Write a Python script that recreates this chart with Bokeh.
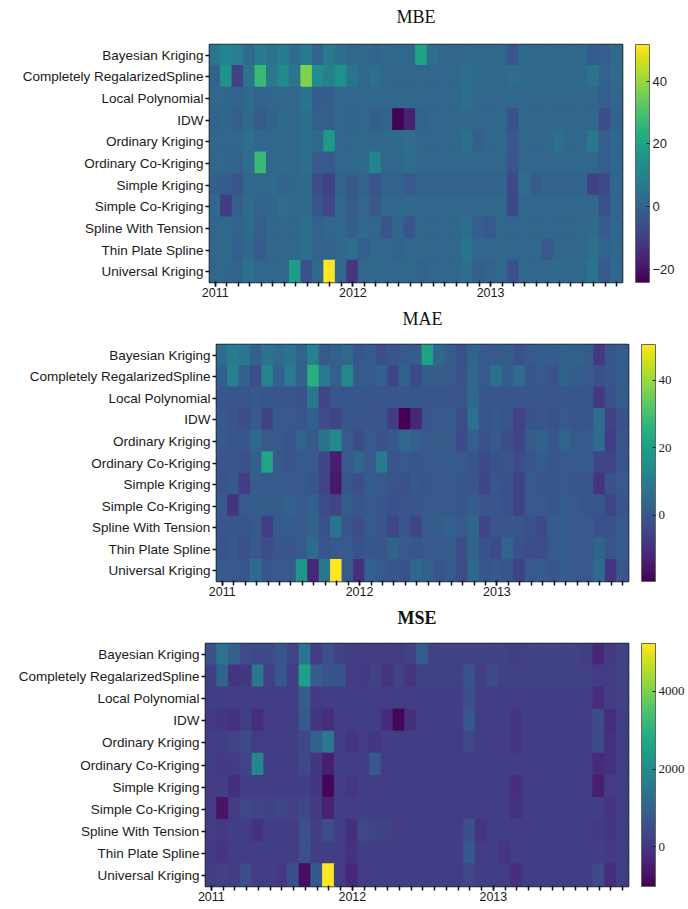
from bokeh.plotting import figure
from bokeh.models import (ColumnDataSource, LinearColorMapper, ColorBar,
                          FixedTicker, Range1d, FactorRange, LinearAxis)
from bokeh.palettes import Viridis256
from bokeh.embed import file_html
from bokeh.resources import INLINE

methods = ["Bayesian Kriging", "Completely RegalarizedSpline", "Local Polynomial",
           "IDW", "Ordinary Kriging", "Ordinary Co-Kriging", "Simple Kriging",
           "Simple Co-Kriging", "Spline With Tension", "Thin Plate Spline",
           "Universal Kriging"]
months = list(range(36))            # Jan 2011 .. Dec 2013
year_ticks = [0, 12, 24]
year_labels = ["2011", "2012", "2013"]

mbe = [
    [5,10,9,2,7,5,7,3,8,0,7,4,1,2,0,1,2,2,20,3,1,1,1,2,2,1,-4,2,2,2,2,2,2,-2,-1,2],
    [0,15,-9,5,27,6,12,5,37,13,9,14,5,1,4,1,1,1,1,1,1,1,3,2,2,2,3,2,2,2,2,2,2,5,0,2],
    [1,1,0,2,0,1,1,1,5,-2,-1,1,1,1,1,1,1,1,1,1,1,1,4,1,1,1,1,1,1,1,1,1,1,1,-1,1],
    [0,1,-1,2,-2,0,2,1,4,-1,-1,1,0,1,-1,0,-24,-17,0,1,1,1,1,1,1,1,-5,1,1,1,1,1,1,1,-6,0],
    [1,1,1,4,1,1,2,1,4,2,17,1,1,2,1,2,2,3,1,1,1,1,4,-1,1,1,-3,1,1,1,4,1,1,6,-1,1],
    [1,1,0,3,27,1,2,1,3,-3,-3,1,1,2,10,1,1,3,1,1,1,1,1,1,1,1,-4,1,1,1,1,1,1,1,-1,1],
    [-1,-2,-4,2,1,2,0,1,2,-6,-9,0,-3,0,-4,0,0,-3,0,0,0,0,0,0,0,0,-7,3,-2,0,0,0,0,-9,-7,1],
    [1,-11,-1,2,0,1,3,1,2,-4,-8,1,-3,1,-3,1,1,1,1,1,1,1,1,1,1,1,-7,1,1,1,1,1,1,1,-5,1],
    [1,2,0,2,-1,1,1,1,4,0,1,1,-1,2,1,-4,1,-4,1,1,1,1,3,-1,-3,1,1,1,1,1,1,1,1,2,-2,1],
    [1,2,-1,1,-2,1,1,1,4,0,0,1,3,-1,1,1,0,1,1,1,1,1,5,1,1,1,1,1,1,-3,1,1,1,4,0,1],
    [1,1,0,4,1,1,1,18,-5,2,51.6,1,-12,1,2,1,1,2,0,1,1,1,3,-1,0,1,-5,1,1,1,2,2,2,5,-3,1],
]
mae = [
    [5,10,8,2,7,5,7,3,11,0,2,4,-1,1,-3,-1,0,1,21,4,1,-2,3,0,0,1,-2,0,1,1,2,2,1,-8,-1,1],
    [2,11,2,-3,12,2,9,2,25,9,2,14,1,0,2,-5,2,-4,1,1,0,-2,4,0,6,1,5,-1,0,-2,2,1,0,-2,-1,1],
    [-1,-1,-1,0,-1,-1,-1,-2,8,-5,-1,-1,-1,-1,-1,-1,-1,-1,-1,-1,-1,-1,4,-1,-1,-1,-1,-1,-1,-1,-1,-1,-1,-8,-2,1],
    [0,-1,-3,0,-6,0,0,-1,2,-3,-5,-1,-1,-1,-1,-7,-19.7,-12,-1,0,0,-3,6,-1,0,-1,-6,-2,-1,-2,0,-1,-1,5,-6,-2],
    [0,-1,-1,4,0,0,-1,3,0,7,14,0,-3,0,-2,0,4,2,0,1,0,-4,2,-2,0,-3,-5,1,2,-1,3,0,1,5,-7,-1],
    [-1,-1,-2,2,22,0,-1,0,0,-5,-14,0,4,0,9,-1,0,-1,0,0,1,0,-1,-4,-2,-1,-3,-1,1,-1,0,0,1,-5,-5,-1],
    [-1,0,-7,1,0,0,0,0,-1,-5,-15,-1,-3,1,0,-1,-2,0,-1,0,0,-1,-1,-5,-1,-2,-6,0,-1,-1,0,-1,-1,-9,-2,0],
    [0,-9,0,1,1,1,2,0,2,-3,-5,1,-1,0,-1,-2,-1,-1,0,0,0,-1,1,-1,-1,-2,-6,0,0,-1,1,0,-1,-1,-5,-1],
    [-1,-1,-1,0,-7,0,1,0,3,-2,7,-1,-3,1,-1,-5,-1,-5,0,1,2,0,4,-5,-1,-1,-1,-2,-4,1,1,0,0,-2,-2,0],
    [-1,0,-2,0,-3,-1,-1,0,5,-1,0,0,-2,-1,-1,3,0,-1,0,0,1,-3,3,-2,-4,3,-2,-3,-3,0,1,0,0,3,-1,0],
    [0,0,-1,5,-1,0,0,17,-12,8,50.6,0,-10,2,0,-1,-2,4,2,-1,0,-3,4,-1,0,-1,-6,0,1,-1,1,0,0,5,-9,-1],
]
mse = [
    [600,1300,900,450,350,400,600,250,1400,100,500,200,150,150,100,150,100,200,800,200,200,200,200,200,200,200,150,200,200,200,200,200,150,-300,50,200],
    [150,1000,-50,0,1500,200,700,150,2500,800,600,600,100,50,200,-50,200,-50,200,200,200,200,600,150,400,200,200,200,200,200,200,200,200,100,100,200],
    [150,150,150,150,150,150,150,150,800,50,150,150,150,150,150,150,150,150,150,150,150,150,500,150,150,150,150,150,150,150,150,150,150,-200,150,200],
    [50,0,-100,150,-200,100,100,150,700,0,-200,150,150,150,150,-200,-900,-150,150,150,150,150,700,150,150,150,0,150,150,150,150,150,150,400,-200,150],
    [150,150,250,400,100,150,150,150,300,900,1500,150,-50,100,0,150,150,150,150,150,150,150,300,150,150,150,-50,150,150,150,150,150,150,400,-100,150],
    [150,50,100,250,1900,150,150,150,350,0,-500,150,150,150,700,150,150,150,150,150,150,150,150,150,150,150,150,150,150,150,150,150,150,-250,-100,150],
    [100,150,-150,150,150,150,150,150,150,0,-900,100,0,150,150,150,150,150,150,150,150,150,150,150,150,150,-150,150,150,150,150,150,150,-500,100,150],
    [100,-700,100,300,250,200,300,200,350,50,-400,150,150,150,150,150,150,150,150,150,150,150,150,150,150,150,-100,150,150,150,150,150,150,150,-50,150],
    [100,50,150,150,-100,150,150,150,500,150,450,150,-150,300,250,200,100,150,150,150,150,150,500,-50,150,150,150,150,150,150,150,150,150,50,0,150],
    [50,-50,150,150,150,150,150,150,500,150,150,150,-100,150,150,150,150,150,150,150,150,150,700,150,150,-50,150,150,150,150,150,150,150,150,50,150],
    [150,200,150,450,100,150,50,500,-800,700,5226,100,-300,100,150,150,150,150,150,150,150,150,300,150,150,150,-150,150,150,150,150,150,150,400,-200,150],
]
mse_range = [-1020, 5226]
mbe_ticks = [-20, 0, 20, 40]
mae_ticks = [0, 20, 40]
mse_ticks = [0, 2000, 4000]

SANS = "Liberation Sans"
SERIF = "Liberation Serif"


def panel(title, data, cb_ticks, title_style, title_gap, cb_font, cb_size,
          fw, fh, left, top, bottom, right, gap, lo=None, hi=None):
    xs, ys, vs = [], [], []
    for name, row in zip(methods, data):
        for m, v in zip(months, row):
            xs.append(m)
            ys.append(name)
            vs.append(v)
    src = ColumnDataSource(dict(x=xs, y=ys, v=vs))
    mapper = LinearColorMapper(palette=Viridis256,
                               low=min(vs) if lo is None else lo,
                               high=max(vs) if hi is None else hi)
    p = figure(frame_width=fw, frame_height=fh, title=None,
               x_range=Range1d(-0.5, 35.5),
               y_range=FactorRange(*reversed(methods)),
               output_backend="svg", toolbar_location=None,
               min_border_left=left, min_border_top=top,
               min_border_bottom=bottom, min_border_right=right)
    # tiles slightly oversized so neighbouring cells overlap (no light seams)
    p.rect(x="x", y="y", width=1.15, height=1.1, source=src,
           fill_color={"field": "v", "transform": mapper}, line_color=None)

    # panel title: an empty top axis carrying the title as its label
    tax = LinearAxis(ticker=FixedTicker(ticks=[]), axis_label=title,
                     axis_line_color=None, major_tick_out=0, major_tick_in=0,
                     minor_tick_out=0, minor_tick_in=0,
                     axis_label_standoff=title_gap,
                     axis_label_text_font=SERIF,
                     axis_label_text_font_size="18px",
                     axis_label_text_font_style=title_style,
                     axis_label_text_color="#111")
    p.add_layout(tax, "above")

    p.xgrid.visible = False
    p.ygrid.visible = False
    p.outline_line_color = "#1a1a1a"
    p.outline_line_width = 1.6
    p.outline_line_alpha = 1
    p.background_fill_color = "white"
    p.border_fill_color = "white"

    xax = p.below[0]
    xax.ticker = FixedTicker(ticks=year_ticks, minor_ticks=months)
    xax.major_label_overrides = {t: l for t, l in zip(year_ticks, year_labels)}
    xax.axis_line_color = None
    xax.major_tick_out = 4
    xax.major_tick_in = 1
    xax.minor_tick_out = 4
    xax.minor_tick_in = 1
    xax.major_tick_line_width = 1.5
    xax.minor_tick_line_width = 1.5
    xax.major_tick_line_color = "#111"
    xax.minor_tick_line_color = "#111"
    xax.major_label_standoff = 1
    xax.major_label_text_font = SANS
    xax.major_label_text_font_size = "12.5px"
    xax.major_label_text_color = "#1a1a1a"

    p.yaxis.axis_line_color = None
    p.yaxis.major_tick_out = 4
    p.yaxis.major_tick_in = 0
    p.yaxis.major_tick_line_width = 1.5
    p.yaxis.major_tick_line_color = "#111"
    p.yaxis.major_label_standoff = 2
    p.yaxis.major_label_text_font = SANS
    p.yaxis.major_label_text_font_size = "13.5px"
    p.yaxis.major_label_text_color = "#1a1a1a"

    cb = ColorBar(color_mapper=mapper, ticker=FixedTicker(ticks=cb_ticks),
                  width=14, height=fh, location=(gap, 0), margin=0, padding=0,
                  label_standoff=3, major_tick_in=3, major_tick_out=0,
                  major_tick_line_color="#222", major_tick_line_width=1.2,
                  bar_line_color="#666", bar_line_width=1,
                  major_label_text_font=cb_font,
                  major_label_text_font_size=cb_size,
                  major_label_text_color="#222",
                  background_fill_alpha=0, border_line_color=None)
    p.add_layout(cb, "right")
    return p


p1 = panel("MBE", mbe, mbe_ticks, "normal", 18, SANS, "13px",
           413, 238, 209, 44, 22, 60, 13)
p2 = panel("MAE", mae, mae_ticks, "normal", 16, SERIF, "13px",
           412, 237, 216, 40, 22, 56, 13)
p3 = panel("MSE", mse, mse_ticks, "bold", 16, SERIF, "13px",
           423, 243, 205, 40, 22, 60, 13, lo=mse_range[0], hi=mse_range[1])

open("out.html", "w").write(file_html([p1, p2, p3], INLINE))
